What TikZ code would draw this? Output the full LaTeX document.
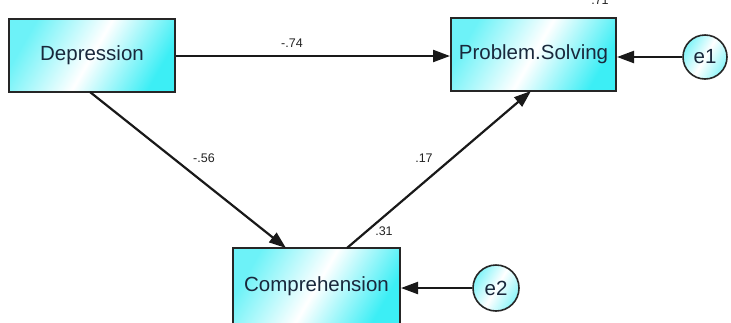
\documentclass[tikz,border=0pt]{standalone}
\usepackage{fontspec}
\setmainfont{Liberation Sans}
\usetikzlibrary{arrows.meta}
\definecolor{boxcyan}{RGB}{60,238,245}
\definecolor{txtnavy}{RGB}{25,40,60}
\definecolor{lblgray}{RGB}{35,35,35}
\tikzset{
  var/.style={draw=black!85, line width=2pt, minimum width=#1, minimum height=73pt, inner sep=0pt,
    left color=boxcyan!75!white, right color=boxcyan, middle color=white, shading angle=60,
    font=\fontsize{20.5}{20.5}\selectfont, text=txtnavy},
  err/.style={circle, draw=black!85, line width=1.6pt, minimum size=44pt, inner sep=0pt,
    left color=boxcyan!65!white, right color=boxcyan!60!white, middle color=white, shading angle=60,
    font=\fontsize{20.5}{20.5}\selectfont, text=txtnavy},
  path/.style={line width=2.2pt, black!90, -{Triangle[length=17pt,width=12pt]}},
  lbl/.style={font=\fontsize{12.5}{12.5}\selectfont, text=lblgray, inner sep=0pt}
}
\begin{document}
\begin{tikzpicture}[x=1pt,y=-1pt]
\useasboundingbox (0,0) rectangle (731,322);
\fill[white] (0,0) rectangle (731,322);
\clip (0,0) rectangle (731,322);
\node[var=166pt] (dep) at (92,55) {Depression};
\node[var=165pt] (ps) at (533.5,54.5) {Problem.Solving};
\node[var=167pt, minimum height=76pt] (comp) at (316.5,286) {Comprehension};
\node[err] (e1) at (705,57) {e1};
\node[err, minimum size=46pt] (e2) at (496,288) {e2};
\coordinate (dpb) at (90,92);
\coordinate (cpt) at (286,248);
\coordinate (cpt2) at (347,248);
\coordinate (psb) at (531,91);
\draw[path] (dep.east |- 0,56) -- (ps.west |- 0,56);
\draw[path] (dpb) -- (cpt);
\draw[path] (cpt2) -- (psb);
\draw[path] (e1) -- (e1 -| ps.east);
\draw[path] (e2) -- (e2 -| comp.east);
\node[lbl] (l1) at (292,43) {-.74};
\node[lbl] (l2) at (204,158) {-.56};
\node[lbl] (l3) at (424,158) {.17};
\node[lbl] (l4) at (384,231) {.31};
\node[lbl, anchor=base] (l5) at (600,4) {.71};
\end{tikzpicture}
\end{document}
